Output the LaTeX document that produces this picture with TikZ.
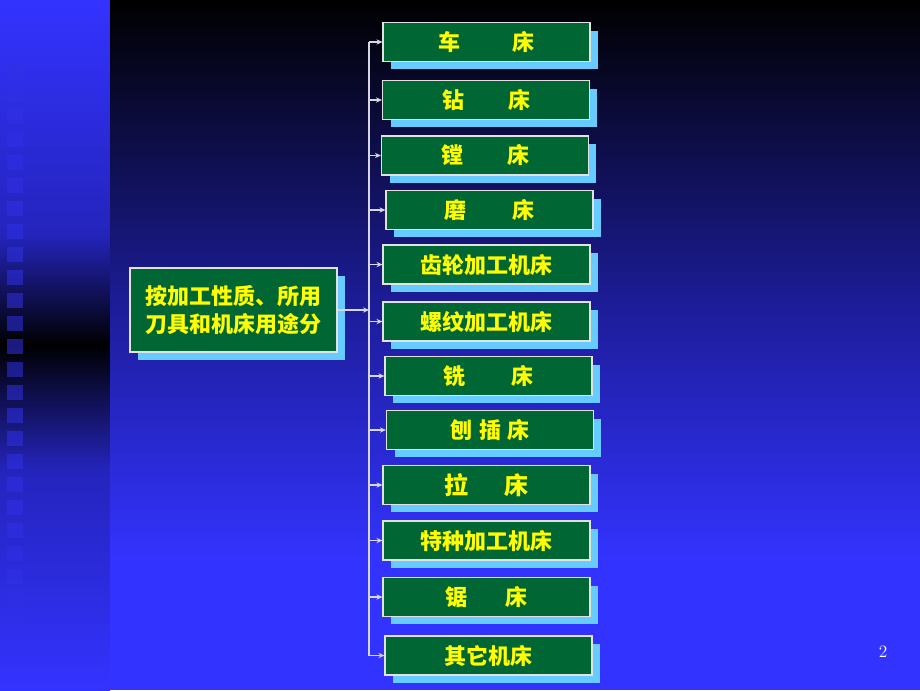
\documentclass[tikz,border=0pt]{standalone}
\usepackage{fontspec}
\newfontfamily\cjk{Noto Sans CJK SC}
\usetikzlibrary{arrows.meta, calc, positioning, shadows}
\definecolor{slideblue}{HTML}{3333FF}
\definecolor{stripmid}{HTML}{2424BC}
\definecolor{mainmid}{HTML}{1C1C96}
\definecolor{sqblue}{HTML}{3030E6}
\definecolor{boxgreen}{HTML}{006633}
\definecolor{shadowblue}{HTML}{66CCFF}
\definecolor{framegray}{HTML}{E2E2E2}
\definecolor{textyellow}{HTML}{FFFF00}
\definecolor{linegray}{HTML}{D6D6E4}
\tikzset
{%
box/.style={rectangle, draw=framegray, line width=1.1pt, fill=boxgreen, minimum width=155pt, minimum height=29pt, inner sep=0pt, text=textyellow, font=\cjk\bfseries\fontsize{16.5}{21}\selectfont, drop shadow={shadow xshift=6pt, shadow yshift=-6pt, fill=shadowblue, opacity=1}},
bigbox/.style={box, minimum height=63pt, align=center},
link/.style={draw=linegray, line width=1.4pt},
arr/.style={link, -{Stealth[length=4.5pt, width=4pt]}},
sq/.style={fill=sqblue, fill opacity=0.55}
}
\begin{document}
\begin{tikzpicture}[x=0.75pt, y=-0.75pt]
	\useasboundingbox (0,0) rectangle (920,690);

		% [BACKGROUND]

		% left strip
		\shade[top color=slideblue, bottom color=stripmid] (0,0) rectangle (110,235);
		\shade[top color=stripmid, bottom color=black] (0,234) rectangle (110,345);
		\shade[top color=black, bottom color=stripmid] (0,344) rectangle (110,470);
		\shade[top color=stripmid, bottom color=slideblue] (0,469) rectangle (110,690);
		\foreach \k in {0,...,24}
			\fill[sq] (7,63+23*\k) rectangle ++(16,15);

		% main area
		\shade[top color=black, bottom color=mainmid] (110,0) rectangle (920,300);
		\shade[top color=mainmid, bottom color=slideblue] (110,299) rectangle (920,560);
		\fill[slideblue] (110,559) rectangle (920,690);

		% [LEFT BOX]
		\node[bigbox] (an) at (233.5,310) {按加工性质、所用\\刀具和机床用途分};

		% [RIGHT COLUMN]
		\node[box] (che) at (486.5,42) {车\hspace{2.35em}床};
		\node[box] (zuan) at (486,100) {钻\hspace{2em}床};
		\node[box] (tang) at (485,155.5) {镗\hspace{2em}床};
		\node[box] (mo) at (489.5,210) {磨\hspace{2.1em}床};
		\node[box] (chilun) at (486.5,264.5) {齿轮加工机床};
		\node[box] (luowen) at (486.5,321.5) {螺纹加工机床};
		\node[box] (xi) at (488.5,376) {铣\hspace{2.1em}床};
		\node[box] (baocha) at (490,430) {刨\hspace{.3em}插\hspace{.3em}床};
		\node[box, font=\cjk\bfseries\fontsize{18}{21}\selectfont] (la) at (486.5,485) {拉\hspace{1.5em}床};
		\node[box] (tezhong) at (486.5,540.5) {特种加工机床};
		\node[box] (ju) at (486.5,597) {锯\hspace{1.7em}床};
		\node[box] (qita) at (488.5,655.5) {其它机床};

		% page number
		\node[text=white, font=\fontsize{13}{15}\selectfont] (pagenum) at (883,652) {2};

		% [CONNECTORS]
		\coordinate (spine) at (369,0);
		\draw[link] (che.west -| spine) -- (qita.west -| spine);
		\draw[arr] (an.east) -- (an.east -| spine);
		\foreach \b in {che, zuan, tang, mo, chilun, luowen, xi, baocha, la, tezhong, ju, qita}
			\draw[arr] (\b.west -| spine) -- (\b.west);
\end{tikzpicture}
\end{document}
